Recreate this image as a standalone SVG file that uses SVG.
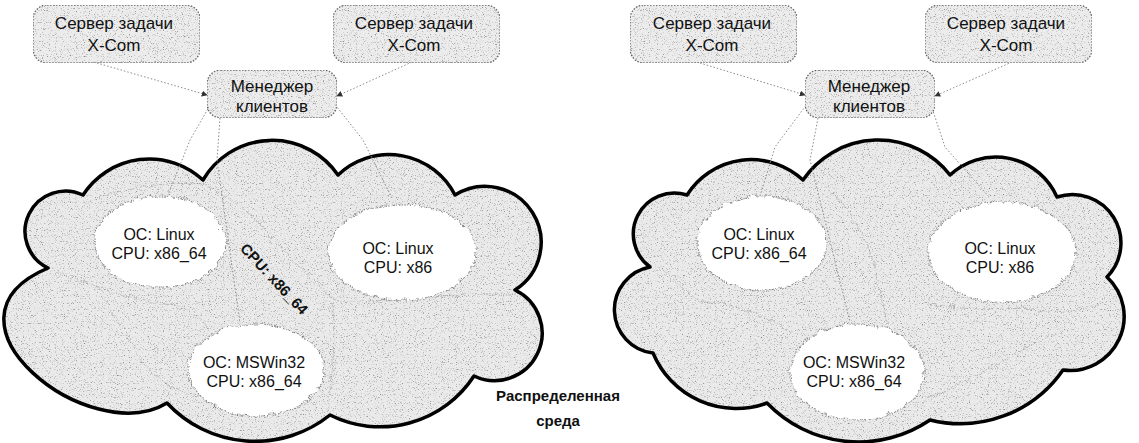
<svg xmlns="http://www.w3.org/2000/svg" width="1139" height="443" viewBox="0 0 1139 443">
<style>
.t{font-family:"Liberation Sans",Arial,sans-serif;fill:#111;text-anchor:middle}
.st{font-size:17px}
.it{font-size:16px}
.bt{font-size:15px;font-weight:bold}
.box{fill:#ececec;stroke:#666;stroke-width:1.3;stroke-dasharray:1.5 1.5}
.cf{fill:#eaeaea}
.co{fill:none;stroke:#000;stroke-width:3.5;stroke-linejoin:round}
.wc{fill:#fff;stroke:#888;stroke-width:1.2;stroke-dasharray:1.5 1.2}
.faint{fill:none;stroke:#a0a0a0;stroke-width:1;stroke-dasharray:1.5 1.5}
.conn{fill:none;stroke:#8a8a8a;stroke-width:1;stroke-dasharray:1.5 2}
</style>
<defs>
<filter id="spk" x="0" y="0" width="1" height="1" color-interpolation-filters="sRGB">
<feTurbulence type="fractalNoise" baseFrequency="0.85" numOctaves="2" seed="7" result="n"/>
<feColorMatrix in="n" type="matrix" values="0 0 0 0 0.4  0 0 0 0 0.4  0 0 0 0 0.4  -2.6 0 0 0 1.1" result="d"/>
<feComposite in="d" in2="SourceGraphic" operator="in" result="d2"/>
<feMerge><feMergeNode in="SourceGraphic"/><feMergeNode in="d2"/></feMerge>
</filter>
<filter id="wob" x="-10%" y="-10%" width="120%" height="120%">
<feTurbulence type="turbulence" baseFrequency="0.12" numOctaves="1" seed="3" result="w"/>
<feDisplacementMap in="SourceGraphic" in2="w" scale="6" xChannelSelector="R" yChannelSelector="G"/>
</filter>
<marker id="ah" viewBox="0 0 8 8" refX="7" refY="4" markerWidth="6" markerHeight="6" orient="auto" markerUnits="userSpaceOnUse">
<path d="M0,0 L8,4 L0,8 z" fill="#333"/>
</marker>
<path id="cloudL" d="M 48 268 A 39.5 39.5 0 0 1 83 195 A 79 79 0 0 1 203 180 A 80 80 0 0 1 338 175 A 74 74 0 0 1 455 195 A 56 56 0 0 1 515 290 A 47 47 0 0 1 474 376 A 112 112 0 0 1 330 415 A 120 120 0 0 1 167 403 C 90 450 -75 320 48 268 Z"/>
<path id="cloudR" d="M 650 267 A 41 41 0 0 1 687 195 A 76 76 0 0 1 803 180 A 91 91 0 0 1 950 175 A 67 67 0 0 1 1057 197 A 48.5 48.5 0 0 1 1107 277 A 54 54 0 0 1 1063 370 A 125 125 0 0 1 930 420 A 127 127 0 0 1 767 403 A 90 90 0 0 1 653 353 A 43.5 43.5 0 0 1 650 267 Z"/>
</defs>
<rect width="1139" height="443" fill="#fff"/>

<g id="env-left">
<use href="#cloudL" class="cf" filter="url(#spk)"/>
<g filter="url(#wob)">
<path class="faint" d="M 85 200 Q 140 178 200 182 Q 240 200 270 235 Q 300 270 335 300 Q 400 300 470 292 L 515 292"/>
<path class="faint" d="M 55 270 Q 110 292 150 300 Q 185 300 205 325"/>
<path class="faint" d="M 100 295 Q 125 330 140 360 Q 165 388 200 395"/>
<path class="faint" d="M 330 300 Q 335 350 325 410"/>
</g>
<use href="#cloudL" class="co"/>
</g>
<g id="env-right">
<use href="#cloudR" class="cf" filter="url(#spk)"/>
<g filter="url(#wob)">
<path class="faint" d="M 660 268 Q 690 295 700 300 Q 740 300 790 330"/>
<path class="faint" d="M 830 190 Q 870 230 880 300 L 885 322"/>
<path class="faint" d="M 920 300 Q 960 310 1020 305 Q 1060 318 1100 300"/>
<path class="faint" d="M 920 400 Q 960 380 1000 360 Q 1030 340 1060 330"/>
</g>
<use href="#cloudR" class="co"/>
</g>

<g id="connectors">
<line class="conn" x1="97" y1="63" x2="207" y2="95" marker-end="url(#ah)"/>
<line class="conn" x1="412" y1="62" x2="337" y2="96" marker-end="url(#ah)"/>
<polyline class="conn" points="213,100 190,140 168,195"/>
<polyline class="conn" points="220,118 217,160 240,323"/>
<polyline class="conn" points="333,102 363,140 392,198"/>
<line class="conn" x1="700" y1="63" x2="805" y2="95" marker-end="url(#ah)"/>
<line class="conn" x1="1012" y1="62" x2="935" y2="96" marker-end="url(#ah)"/>
<polyline class="conn" points="810,100 775,147 760,196"/>
<polyline class="conn" points="818,118 810,160 850,322"/>
<polyline class="conn" points="930,102 945,147 990,198"/>
</g>

<g id="left-linux64">
<ellipse class="wc" cx="158" cy="240" rx="66" ry="46" filter="url(#wob)"/>
<text class="t it" x="159" y="240">OC: Linux</text>
<text class="t it" x="159" y="259">CPU: x86_64</text>
</g>
<g id="left-linux86">
<ellipse class="wc" cx="400" cy="250" rx="74" ry="48" filter="url(#wob)"/>
<text class="t it" x="398" y="254">OC: Linux</text>
<text class="t it" x="398" y="273">CPU: x86</text>
</g>
<g id="left-win">
<ellipse class="wc" cx="254" cy="368" rx="68" ry="46" filter="url(#wob)"/>
<text class="t it" x="254" y="368">OC: MSWin32</text>
<text class="t it" x="254" y="387">CPU: x86_64</text>
</g>
<g id="band-label">
<text class="t" transform="translate(274,279) rotate(47)" x="0" y="5" style="font-size:15px;font-weight:bold">CPU: x86_64</text>
</g>
<g id="right-linux64">
<ellipse class="wc" cx="760" cy="241" rx="65" ry="47" filter="url(#wob)"/>
<text class="t it" x="759" y="240">OC: Linux</text>
<text class="t it" x="759" y="259">CPU: x86_64</text>
</g>
<g id="right-linux86">
<ellipse class="wc" cx="1000" cy="250" rx="74" ry="50" filter="url(#wob)"/>
<text class="t it" x="1000" y="254">OC: Linux</text>
<text class="t it" x="1000" y="273">CPU: x86</text>
</g>
<g id="right-win">
<ellipse class="wc" cx="855" cy="370" rx="67" ry="48" filter="url(#wob)"/>
<text class="t it" x="854" y="368">OC: MSWin32</text>
<text class="t it" x="854" y="387">CPU: x86_64</text>
</g>

<g id="srv-l1">
<rect class="box" x="33" y="5" width="167" height="58" rx="14" filter="url(#spk)"/>
<text class="t st" x="114" y="29">Сервер задачи</text>
<text class="t st" x="114" y="51">X-Com</text>
</g>
<g id="srv-l2">
<rect class="box" x="333" y="5" width="167" height="58" rx="14" filter="url(#spk)"/>
<text class="t st" x="414" y="29">Сервер задачи</text>
<text class="t st" x="414" y="51">X-Com</text>
</g>
<g id="mgr-l">
<rect class="box" x="207" y="70" width="130" height="48" rx="14" filter="url(#spk)"/>
<text class="t st" x="272" y="92">Менеджер</text>
<text class="t st" x="272" y="112">клиентов</text>
</g>
<g id="srv-r1">
<rect class="box" x="630" y="5" width="167" height="58" rx="14" filter="url(#spk)"/>
<text class="t st" x="712" y="29">Сервер задачи</text>
<text class="t st" x="712" y="51">X-Com</text>
</g>
<g id="srv-r2">
<rect class="box" x="925" y="5" width="167" height="58" rx="14" filter="url(#spk)"/>
<text class="t st" x="1006" y="29">Сервер задачи</text>
<text class="t st" x="1006" y="51">X-Com</text>
</g>
<g id="mgr-r">
<rect class="box" x="805" y="70" width="130" height="48" rx="14" filter="url(#spk)"/>
<text class="t st" x="869" y="92">Менеджер</text>
<text class="t st" x="869" y="112">клиентов</text>
</g>

<g id="env-label">
<text class="t bt" x="558" y="401">Распределенная</text>
<text class="t bt" x="558" y="426">среда</text>
</g>
</svg>
